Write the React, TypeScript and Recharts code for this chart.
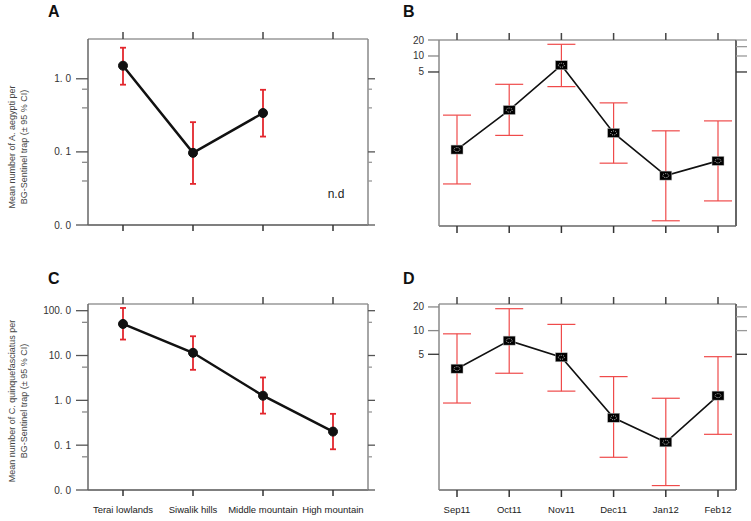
import React from 'react';
import { LineChart, Line, XAxis, YAxis, ErrorBar, ReferenceDot } from 'recharts';

const FONT = '"Liberation Sans", Arial, sans-serif';

// ---- categories ----
const regions = ['Terai lowlands', 'Siwalik hills', 'Middle mountain', 'High mountain'];
const months = ['Sep11', 'Oct11', 'Nov11', 'Dec11', 'Jan12', 'Feb12'];

// ---- A: A. aegypti by region (n.d for High mountain) ----
const aegyptiRegionMean: (number | null)[] = [1.51, 0.097, 0.34, null];
const aegyptiRegionLow: (number | null)[] = [0.83, 0.0365, 0.162, null];
const aegyptiRegionHigh: (number | null)[] = [2.66, 0.255, 0.707, null];

// ---- B: A. aegypti by month ----
const aegyptiMonthMean = [0.173, 0.96, 6.7, 0.356, 0.056, 0.106];
const aegyptiMonthLow = [0.039, 0.32, 2.65, 0.096, 0.0079, 0.0187];
const aegyptiMonthHigh = [0.77, 2.93, 16.6, 1.31, 0.39, 0.6];

// ---- C: C. quinquefasciatus by region ----
const culexRegionMean = [50.6, 11.5, 1.27, 0.201];
const culexRegionLow = [22.7, 4.8, 0.506, 0.081];
const culexRegionHigh = [115, 26.9, 3.24, 0.5];

// ---- D: C. quinquefasciatus by month ----
const culexMonthMean = [3.28, 7.46, 4.58, 0.78, 0.38, 1.49];
const culexMonthLow = [1.2, 2.87, 1.7, 0.245, 0.107, 0.48];
const culexMonthHigh = [9.1, 19.0, 12.0, 2.6, 1.38, 4.66];

// ---- ticks & labels ----
const ticksA = [0.01, 0.04, 0.072, 0.1, 0.4, 0.72, 1];
const majorsA = [0.01, 0.1, 1];
const labelsA: Record<string, string> = { '0.01': '0. 0', '0.1': '0. 1', '1': '1. 0' };
const ticksC = [0.01, 0.055, 0.1, 0.55, 1, 5.5, 10, 55, 100];
const majorsC = [0.01, 0.1, 1, 10, 100];
const labelsC: Record<string, string> = { '0.01': '0. 0', '0.1': '0. 1', '1': '1. 0', '10': '10. 0', '100': '100. 0' };
const ticksMonthLeft = [5, 10, 20];
const ticksMonthRight = [5, 10, 15, 20];
const labelsMonth: Record<string, string> = { '5': '5', '10': '10', '20': '20' };

const domainA: [number, number] = [0.01, 3.5];
const domainB: [number, number] = [0.0063, 20];
const domainC: [number, number] = [0.01, 141];
const domainD: [number, number] = [0.094, 21.8];

const titleA = ['Mean number of A. aegypti per', 'BG-Sentinel trap (\u00b1 95 % CI)'];
const titleC = ['Mean number of C. quinquefasciatus per', 'BG-Sentinel trap (\u00b1 95 % CI)'];
const notDetermined = 'n.d';
const notDeterminedAt = { region: 'High mountain', y: 0.0266 };

type Row = { name: string; mean: number | null; err?: [number, number] };
const buildRows = (
  cats: string[],
  mean: (number | null)[],
  low: (number | null)[],
  high: (number | null)[]
): Row[] =>
  cats.map((name, i) => {
    const m = mean[i];
    const l = low[i];
    const h = high[i];
    return {
      name,
      mean: m,
      err: m == null || l == null || h == null ? undefined : [m - l, h - m],
    };
  });

const rowsA = buildRows(regions, aegyptiRegionMean, aegyptiRegionLow, aegyptiRegionHigh);
const rowsB = buildRows(months, aegyptiMonthMean, aegyptiMonthLow, aegyptiMonthHigh);
const rowsC = buildRows(regions, culexRegionMean, culexRegionLow, culexRegionHigh);
const rowsD = buildRows(months, culexMonthMean, culexMonthLow, culexMonthHigh);

type TickOpts = {
  side: 'left' | 'right';
  labels?: Record<string, string>;
  majors: number[];
  majorLen: number;
  minorLen: number;
  gap: number;
  majorColor: string;
  minorColor: string;
};

const makeYTick = (o: TickOpts) => (props: any) => {
  const { x, y, payload } = props;
  const v = payload.value;
  const isMajor = o.majors.includes(v);
  const len = isMajor ? o.majorLen : o.minorLen;
  const dir = o.side === 'left' ? -1 : 1;
  const label = o.labels ? o.labels[String(v)] : undefined;
  return (
    <g>
      <line
        x1={x}
        x2={x + dir * len}
        y1={y}
        y2={y}
        stroke={isMajor ? o.majorColor : o.minorColor}
        strokeWidth={1.3}
      />
      {label ? (
        <text
          x={x + dir * (o.majorLen + o.gap)}
          y={y}
          dy="0.35em"
          textAnchor={o.side === 'left' ? 'end' : 'start'}
          fontSize={10}
          fill="#333"
          fontFamily={FONT}
        >
          {label}
        </text>
      ) : null}
    </g>
  );
};

// Bottom ticks: tickSize 0 => (x, y) lies on the axis line.
const makeBottomTick = (len: number, color: string, showLabel: boolean, labelGap: number) => (props: any) => {
  const { x, y, payload } = props;
  return (
    <g>
      <line x1={x} x2={x} y1={y} y2={y + len} stroke={color} strokeWidth={1.5} />
      {showLabel ? (
        <text x={x} y={y + labelGap} dy="0.71em" textAnchor="middle" fontSize={9.5} fill="#222" fontFamily={FONT}>
          {payload.value}
        </text>
      ) : null}
    </g>
  );
};

// Top ticks drawn as a path (outward, above the frame).
const makeTopTick = (len: number, color: string) => (props: any) => {
  const { x, y } = props;
  return (
    <path d={`M${x},${y}L${x},${y - len}`} stroke={color} strokeWidth={1.5} fill="none" />
  );
};

const makeTitle = (lines: string[], dyCenter: number) => (props: any) => {
  const vb = props.viewBox || { x: 0, y: 0, width: 0, height: 0 };
  const cx = vb.x + 15;
  const cy = vb.y + vb.height / 2 + dyCenter;
  return (
    <text
      transform={`rotate(-90 ${cx} ${cy})`}
      x={cx}
      y={cy}
      textAnchor="middle"
      fontSize={9}
      fill="#444"
      fontFamily={FONT}
    >
      <tspan x={cx} dy={0}>{lines[0]}</tspan>
      <tspan x={cx} dy={11.5}>{lines[1]}</tspan>
    </text>
  );
};

const NdLabel = (props: any) => {
  const vb = props.viewBox || { x: 0, y: 0, width: 0, height: 0 };
  const cx = vb.x + (vb.width || 0) / 2 + 3;
  const cy = vb.y + (vb.height || 0) / 2;
  return (
    <text x={cx} y={cy} dy="0.35em" textAnchor="middle" fontSize={12} fill="#222" fontFamily={FONT}>
      {notDetermined}
    </text>
  );
};

const SquareDot = (props: any) => {
  const { cx, cy, index } = props;
  if (cx == null || cy == null || isNaN(cx) || isNaN(cy)) return <g key={`sq-${index}`} />;
  return (
    <g key={`sq-${index}`}>
      <rect x={cx - 6} y={cy - 4.5} width={12} height={9} fill="#000" stroke="#bbb" strokeWidth={0.5} />
      <ellipse cx={cx} cy={cy} rx={3} ry={2} fill="none" stroke="#fff" strokeWidth={0.8} strokeDasharray="1 1.2" />
    </g>
  );
};

type RegionProps = {
  rows: Row[];
  domain: [number, number];
  ticks: number[];
  majors: number[];
  labels: Record<string, string>;
  title: string[];
  titleDy: number;
  topH: number;
  height: number;
  showXLabels: boolean;
  nd?: boolean;
};

const RegionPanel = (p: RegionProps) => {
  const bottomH = p.showXLabels ? 31 : 15;
  return (
    <LineChart width={380} height={p.height} data={p.rows} margin={{ top: 0, right: 0, bottom: 0, left: 0 }}>
      <XAxis
        xAxisId="bottom"
        orientation="bottom"
        dataKey="name"
        height={bottomH}
        tick={makeBottomTick(6, '#333', p.showXLabels, 16)}
        tickSize={0}
        tickMargin={0}
        tickLine={false}
        axisLine={{ stroke: '#555', strokeWidth: 1.5 }}
        padding={{ left: 35, right: 35 }}
        interval={0}
      />
      <XAxis
        xAxisId="top"
        orientation="top"
        dataKey="name"
        height={p.topH}
        tick={makeTopTick(7, '#444')}
        tickSize={0}
        tickMargin={0}
        tickLine={false}
        axisLine={{ stroke: '#999', strokeWidth: 1.5 }}
        padding={{ left: 35, right: 35 }}
        interval={0}
      />
      <YAxis
        yAxisId="left"
        orientation="left"
        type="number"
        scale="log"
        domain={p.domain}
        allowDataOverflow
        ticks={p.ticks}
        interval={0}
        width={88}
        tickSize={0}
        tickMargin={0}
        tickLine={false}
        axisLine={{ stroke: '#666', strokeWidth: 1.5 }}
        tick={makeYTick({
          side: 'left',
          labels: p.labels,
          majors: p.majors,
          majorLen: 12,
          minorLen: 6,
          gap: 5,
          majorColor: '#555',
          minorColor: '#888',
        })}
        label={makeTitle(p.title, p.titleDy)}
      />
      <YAxis
        yAxisId="right"
        orientation="right"
        type="number"
        scale="log"
        domain={p.domain}
        allowDataOverflow
        ticks={p.ticks}
        interval={0}
        width={12}
        tickSize={0}
        tickMargin={0}
        tickLine={false}
        axisLine={{ stroke: '#888', strokeWidth: 1.5 }}
        tick={makeYTick({
          side: 'right',
          majors: p.majors,
          majorLen: 7,
          minorLen: 4,
          gap: 2,
          majorColor: '#555',
          minorColor: '#999',
        })}
      />
      <Line
        xAxisId="top"
        yAxisId="right"
        dataKey="mean"
        stroke="none"
        strokeWidth={0}
        dot={false}
        activeDot={false}
        legendType="none"
        isAnimationActive={false}
      />
      <Line
        xAxisId="bottom"
        yAxisId="left"
        dataKey="mean"
        stroke="#111"
        strokeWidth={2.5}
        dot={{ r: 4.5, fill: '#111', stroke: '#111', strokeWidth: 1 }}
        activeDot={false}
        isAnimationActive={false}
      >
        <ErrorBar dataKey="err" width={3} stroke="#e3262d" strokeWidth={1.8} direction="y" />
      </Line>
      {p.nd ? (
        <ReferenceDot
          xAxisId="bottom"
          yAxisId="left"
          x={notDeterminedAt.region}
          y={notDeterminedAt.y}
          r={0}
          fill="none"
          stroke="none"
          label={NdLabel}
        />
      ) : null}
    </LineChart>
  );
};

type MonthProps = {
  rows: Row[];
  domain: [number, number];
  topH: number;
  height: number;
  showXLabels: boolean;
};

const MonthPanel = (p: MonthProps) => {
  const bottomH = p.showXLabels ? 31 : 14;
  return (
    <LineChart width={371} height={p.height} data={p.rows} margin={{ top: 0, right: 0, bottom: 0, left: 0 }}>
      <XAxis
        xAxisId="bottom"
        orientation="bottom"
        dataKey="name"
        height={bottomH}
        tick={makeBottomTick(7, '#333', p.showXLabels, 16)}
        tickSize={0}
        tickMargin={0}
        tickLine={false}
        axisLine={{ stroke: '#666', strokeWidth: 1.5 }}
        padding={{ left: 18, right: 18 }}
        interval={0}
      />
      <XAxis
        xAxisId="top"
        orientation="top"
        dataKey="name"
        height={p.topH}
        tick={makeTopTick(7, '#444')}
        tickSize={0}
        tickMargin={0}
        tickLine={false}
        axisLine={{ stroke: '#999', strokeWidth: 1.5 }}
        padding={{ left: 18, right: 18 }}
        interval={0}
      />
      <YAxis
        yAxisId="left"
        orientation="left"
        type="number"
        scale="log"
        domain={p.domain}
        allowDataOverflow
        ticks={ticksMonthLeft}
        interval={0}
        width={59}
        tickSize={0}
        tickMargin={0}
        tickLine={false}
        axisLine={{ stroke: '#888', strokeWidth: 1.5 }}
        tick={makeYTick({
          side: 'left',
          labels: labelsMonth,
          majors: [5],
          majorLen: 11,
          minorLen: 11,
          gap: 4,
          majorColor: '#333',
          minorColor: '#888',
        })}
      />
      <YAxis
        yAxisId="right"
        orientation="right"
        type="number"
        scale="log"
        domain={p.domain}
        allowDataOverflow
        ticks={ticksMonthRight}
        interval={0}
        width={15}
        tickSize={0}
        tickMargin={0}
        tickLine={false}
        axisLine={{ stroke: '#666', strokeWidth: 2 }}
        tick={makeYTick({
          side: 'right',
          majors: [5],
          majorLen: 11,
          minorLen: 11,
          gap: 2,
          majorColor: '#333',
          minorColor: '#999',
        })}
      />
      <Line
        xAxisId="top"
        yAxisId="right"
        dataKey="mean"
        stroke="none"
        strokeWidth={0}
        dot={false}
        activeDot={false}
        legendType="none"
        isAnimationActive={false}
      />
      <Line
        xAxisId="bottom"
        yAxisId="left"
        dataKey="mean"
        stroke="#111"
        strokeWidth={1.6}
        dot={SquareDot}
        activeDot={false}
        isAnimationActive={false}
      >
        <ErrorBar dataKey="err" width={14} stroke="#ef4a4a" strokeWidth={1.2} direction="y" />
      </Line>
    </LineChart>
  );
};

export default function App() {
  return (
    <div
      style={{
        position: 'absolute',
        left: 0,
        top: 0,
        width: 751,
        height: 521,
        background: '#fff',
        fontFamily: FONT,
        overflow: 'hidden',
      }}
    >
      <svg width={751} height={521} style={{ position: 'absolute', left: 0, top: 0 }}>
        <g fontFamily={FONT} fontWeight="bold" fontSize={16} fill="#111">
          <text x={48} y={17}>A</text>
          <text x={403} y={17}>B</text>
          <text x={48} y={284}>C</text>
          <text x={403} y={284}>D</text>
        </g>
      </svg>
      <div style={{ position: 'absolute', left: 0, top: 0 }}>
        <RegionPanel
          rows={rowsA}
          domain={domainA}
          ticks={ticksA}
          majors={majorsA}
          labels={labelsA}
          title={titleA}
          titleDy={15}
          topH={39}
          height={240}
          showXLabels={false}
          nd
        />
      </div>
      <div style={{ position: 'absolute', left: 380, top: 0 }}>
        <MonthPanel rows={rowsB} domain={domainB} topH={40} height={240} showXLabels={false} />
      </div>
      <div style={{ position: 'absolute', left: 0, top: 240 }}>
        <RegionPanel
          rows={rowsC}
          domain={domainC}
          ticks={ticksC}
          majors={majorsC}
          labels={labelsC}
          title={titleC}
          titleDy={4}
          topH={64}
          height={281}
          showXLabels
        />
      </div>
      <div style={{ position: 'absolute', left: 380, top: 240 }}>
        <MonthPanel rows={rowsD} domain={domainD} topH={64} height={281} showXLabels />
      </div>
    </div>
  );
}
